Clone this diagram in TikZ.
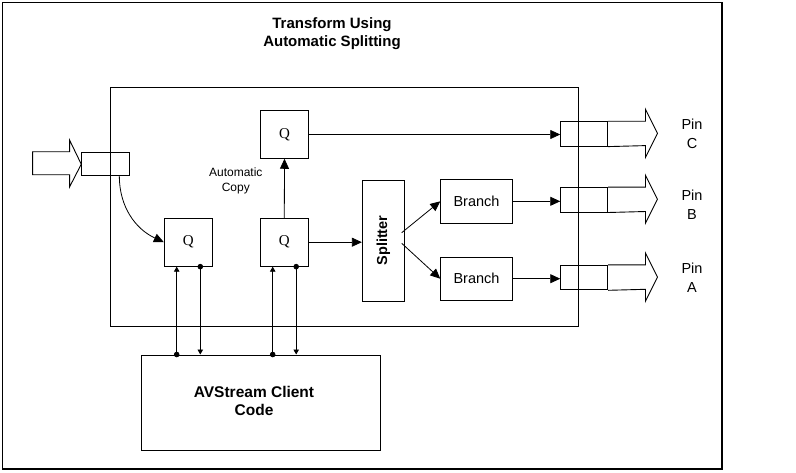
\documentclass[tikz,border=0pt]{standalone}
\usepackage{fontspec}
\setmainfont{Liberation Sans}
\newfontfamily\qfont{Liberation Serif}
\usetikzlibrary{arrows.meta}
\begin{document}
\begin{tikzpicture}[x=1pt,y=-1pt,
  box/.style={draw,line width=0.9pt,inner sep=0pt},
  qbox/.style={box,minimum width=48pt,minimum height=48pt,font=\qfont\fontsize{15}{17}\selectfont},
  outbox/.style={box,minimum width=47pt,minimum height=24.5pt},
  brbox/.style={box,minimum width=71.6pt,minimum height=43.5pt,font=\fontsize{14.5}{17}\selectfont},
  conn/.style={line width=0.8pt,-{Triangle[length=10pt,width=9pt]}},
  bus/.style={line width=0.8pt,{Circle[length=5.5pt]}-{Triangle[length=5pt,width=5.5pt]},shorten <=-2.75pt},
  fat/.style={draw,line width=0.9pt},
  lbl/.style={align=center,inner sep=0pt}]
\useasboundingbox (0,0) rectangle (796,472);
\draw[line width=1.4pt] (2.5,2.5) rectangle (722,469);
% title
\node[lbl,font=\bfseries\fontsize{15}{18}\selectfont] (title) at (332,34) {Transform Using\\Automatic Splitting};
% big transform box
\draw[line width=0.9pt] (110,87) rectangle (578.5,326);
% nodes
\node[box,minimum width=47.6pt,minimum height=23pt] (inbox) at (105.5,164.2) {};
\node[qbox] (q1) at (188.3,242.2) {Q};
\node[qbox] (q2) at (284.3,242.2) {Q};
\node[qbox,minimum width=47.6pt,minimum height=47.6pt] (q3) at (284.5,134.5) {Q};
\node[box,minimum width=42pt,minimum height=121pt] (split) at (383.3,240.5) {};
\node[rotate=90,inner sep=0pt,font=\bfseries\fontsize{14.5}{17}\selectfont] (splittext) at (split.center) {Splitter};
\node[brbox] (br1) at (476.5,201.3) {Branch};
\node[brbox] (br2) at (476.5,278.7) {Branch};
\node[outbox] (outC) at (584.2,133.9) {};
\node[outbox] (outB) at (584.2,199.8) {};
\node[outbox] (outA) at (584.2,277.6) {};
\node[box,minimum width=239pt,minimum height=95.5pt,font=\bfseries\fontsize{15.5}{18}\selectfont] (client) at (260.5,402.7) {\raisebox{4pt}{\makebox[0pt]{\hspace*{-13pt}\begin{tabular}{@{}c@{}}AVStream Client\\Code\end{tabular}}}};
% labels
\node[lbl,font=\fontsize{12}{15.5}\selectfont] (autocopy) at (235.8,181) {Automatic\\Copy};
\node[lbl,font=\fontsize{14.5}{19}\selectfont] (pinC) at (692,134) {Pin\\C};
\node[lbl,font=\fontsize{14.5}{19}\selectfont] (pinB) at (692,205) {Pin\\B};
\node[lbl,font=\fontsize{14.5}{19}\selectfont] (pinA) at (692,278) {Pin\\A};
% input fat arrow
\draw[fat] (inbox.west) -- ++(-11.7,-24.2) -- ++(0,11.7) -- ++(-37,0) -- ++(0,23) -- ++(37,0) -- ++(0,12.3) -- cycle;
% output fat arrows
\foreach \n in {outC,outB,outA}{
  \draw[fat] (\n.north east) -- ++(37.3,0) -- ++(0,-11.8) -- ++(12,24) -- ++(-12,24) -- ++(0,-11.8) -- (\n.south east);
}
% connectors
\coordinate (c0) at (119.3,175.7);
\draw[conn] (c0) to[out=-90,in=155] (q1.west);
\draw[conn] (q2.north) -- (q3.south);
\draw[conn] (q3.east) -- (q3.east -| outC.west);
\draw[conn] (q2.east) -- (q2.east -| split.west);
\coordinate (s1) at (401.7,232.7);
\coordinate (s2) at (401.7,243.3);
\draw[conn] (s1) -- (br1.west);
\draw[conn] (s2) -- (br2.west);
\draw[conn] (br1.east) -- (br1.east -| outB.west);
\draw[conn] (br2.east) -- (br2.east -| outA.west);
% client buses
\coordinate (u1) at (176.7,0);
\coordinate (d1) at (200.3,0);
\coordinate (u2) at (272.7,0);
\coordinate (d2) at (296.2,0);
\draw[bus] (u1 |- client.north) -- (u1 |- q1.south);
\draw[bus] (d1 |- q1.south) -- (d1 |- client.north);
\draw[bus] (u2 |- client.north) -- (u2 |- q2.south);
\draw[bus] (d2 |- q2.south) -- (d2 |- client.north);
\end{tikzpicture}
\end{document}
